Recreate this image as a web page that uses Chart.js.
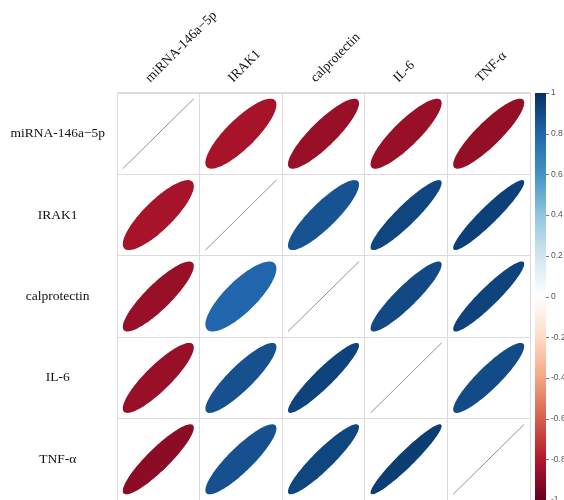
<!DOCTYPE html>
<html>
<head>
<meta charset="utf-8">
<script src="https://cdn.jsdelivr.net/npm/chart.js@4.4.1/dist/chart.umd.min.js"></script>
<style>
  html, body { margin: 0; padding: 0; background: #ffffff; }
  #wrap { width: 564px; height: 500px; }
</style>
</head>
<body>
<div id="wrap"><canvas id="c"></canvas></div>
<script>
// Variables of the correlation matrix (rows top to bottom, columns left to right)
const variables = ['miRNA-146a\u22125p', 'IRAK1', 'calprotectin', 'IL-6', 'TNF-\u03b1'];

// Correlation coefficients, one row per variable
const corrMiRNA   = [1.00, -0.83, -0.87, -0.87, -0.88];
const corrIRAK1   = [-0.83, 1.00, 0.87, 0.92, 0.94];
const corrCalpro  = [-0.87, 0.80, 1.00, 0.91, 0.93];
const corrIL6     = [-0.87, 0.88, 0.93, 1.00, 0.90];
const corrTNF     = [-0.90, 0.88, 0.92, 0.95, 1.00];

// Colour legend tick values
const legendTicks = [1, 0.8, 0.6, 0.4, 0.2, 0, -0.2, -0.4, -0.6, -0.8, -1];

// Diverging red-white-blue palette, from -1 to 1
const rdbu = ['#67001F', '#B2182B', '#D6604D', '#F4A582', '#FDDBC7', '#FFFFFF',
              '#D1E5F0', '#92C5DE', '#4393C3', '#2166AC', '#053061'];

function hexToRgb(h) {
  return [parseInt(h.slice(1, 3), 16), parseInt(h.slice(3, 5), 16), parseInt(h.slice(5, 7), 16)];
}
function colorFor(v) {
  const pos = (Math.max(-1, Math.min(1, v)) + 1) / 2 * (rdbu.length - 1);
  const i = Math.min(Math.floor(pos), rdbu.length - 2);
  const f = pos - i;
  const a = hexToRgb(rdbu[i]), b = hexToRgb(rdbu[i + 1]);
  const c = a.map((x, k) => Math.round(x + (b[k] - x) * f));
  return `rgb(${c[0]},${c[1]},${c[2]})`;
}

const matrix = [corrMiRNA, corrIRAK1, corrCalpro, corrIL6, corrTNF];
const cells = [];
matrix.forEach((row, ri) => row.forEach((r, ci) => {
  cells.push({ x: variables[ci], y: variables[ri], r: r });
}));

// Draws one ellipse per cell, shaped and coloured by its coefficient
const ellipsePlugin = {
  id: 'corrEllipses',
  afterDatasetsDraw(chart) {
    const ctx = chart.ctx;
    const xs = chart.scales.x, ys = chart.scales.y;
    const cw = Math.abs(xs.getPixelForValue(1) - xs.getPixelForValue(0));
    const ch = Math.abs(ys.getPixelForValue(1) - ys.getPixelForValue(0));
    const sx = 0.43 * cw, sy = 0.43 * ch;
    const meta = chart.getDatasetMeta(0);
    const data = chart.data.datasets[0].data;
    ctx.save();
    meta.data.forEach((pt, i) => {
      const r = data[i].r;
      const cx = pt.x, cy = pt.y;
      if (Math.abs(r) >= 0.999) {
        ctx.beginPath();
        ctx.moveTo(cx - sx, cy + sy);
        ctx.lineTo(cx + sx, cy - sy);
        ctx.strokeStyle = '#8e93a3';
        ctx.lineWidth = 1;
        ctx.stroke();
        return;
      }
      const d = Math.acos(Math.abs(r));
      ctx.beginPath();
      const n = 120;
      for (let k = 0; k <= n; k++) {
        const t = (k / n) * Math.PI * 2;
        const px = cx + sx * Math.cos(t + d / 2);
        const py = cy - sy * Math.cos(t - d / 2);
        if (k === 0) ctx.moveTo(px, py); else ctx.lineTo(px, py);
      }
      ctx.closePath();
      ctx.fillStyle = colorFor(r);
      ctx.fill();
    });
    ctx.restore();
  }
};

// Colour bar drawn along the right-hand legend axis
const colorBarPlugin = {
  id: 'colorBar',
  afterDraw(chart) {
    const s = chart.scales.legend;
    const ctx = chart.ctx;
    const top = s.getPixelForValue(1), bottom = s.getPixelForValue(-1);
    const x0 = s.left + 5, w = 11;
    const g = ctx.createLinearGradient(0, bottom, 0, top);
    rdbu.forEach((c, i) => g.addColorStop(i / (rdbu.length - 1), c));
    ctx.save();
    ctx.fillStyle = g;
    ctx.fillRect(x0, top, w, bottom - top);
    ctx.strokeStyle = '#777';
    ctx.lineWidth = 1;
    s.ticks.forEach(t => {
      const y = Math.round(s.getPixelForValue(t.value)) + 0.5;
      ctx.beginPath();
      ctx.moveTo(x0 + w, y);
      ctx.lineTo(x0 + w + 3, y);
      ctx.stroke();
    });
    ctx.restore();
  }
};

const labelFont = { family: "'Liberation Serif', 'DejaVu Serif', serif", size: 13.5 };

new Chart(document.getElementById('c'), {
  type: 'scatter',
  data: {
    datasets: [{
      data: cells,
      pointRadius: 0,
      pointHoverRadius: 0
    }]
  },
  options: {
    responsive: true,
    maintainAspectRatio: false,
    animation: false,
    layout: { padding: 0 },
    plugins: { legend: { display: false }, tooltip: { enabled: false } },
    scales: {
      x: {
        type: 'category',
        labels: variables,
        position: 'top',
        offset: true,
        grid: { offset: true, color: '#dcdcdc', drawTicks: false },
        border: { color: '#dcdcdc' },
        ticks: {
          font: labelFont, color: '#111',
          minRotation: 45, maxRotation: 45,
          padding: 7, labelOffset: 1, autoSkip: false
        },
        afterFit(s) { s.height = 93; s.paddingLeft = 0; s.paddingRight = 0; }
      },
      y: {
        type: 'category',
        labels: variables,
        position: 'left',
        offset: true,
        grid: { offset: true, color: '#dcdcdc', drawTicks: false },
        border: { color: '#dcdcdc' },
        ticks: { font: labelFont, color: '#111', crossAlign: 'center', padding: 12, autoSkip: false },
        afterFit(s) { s.width = 117; s.paddingTop = 0; s.paddingBottom = 0; }
      },
      legend: {
        type: 'linear',
        position: 'right',
        min: -1, max: 1,
        grid: { display: false, drawTicks: false },
        border: { display: false },
        afterBuildTicks(s) { s.ticks = legendTicks.map(v => ({ value: v })); },
        ticks: {
          padding: 21,
          font: { family: "'Liberation Sans', Arial, sans-serif", size: 8.5 },
          color: '#555',
          callback: v => String(+v.toFixed(1))
        },
        afterFit(s) { s.width = 34; s.paddingTop = 0; s.paddingBottom = 0; }
      }
    }
  },
  plugins: [ellipsePlugin, colorBarPlugin]
});
</script>
</body>
</html>
